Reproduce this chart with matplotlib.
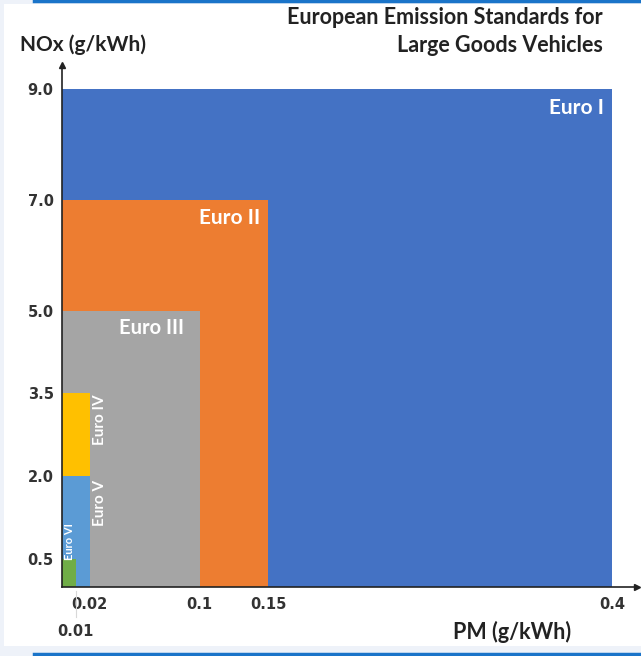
import matplotlib
matplotlib.use("Agg")
from matplotlib import pyplot as plt
from matplotlib.patches import Rectangle
from matplotlib.lines import Line2D

# emission limits, drawn from largest to smallest
stages = ["Euro I", "Euro II", "Euro III", "Euro IV", "Euro V", "Euro VI"]
pm_limits = [0.4, 0.15, 0.1, 0.02, 0.02, 0.01]
nox_limits = [9.0, 7.0, 5.0, 3.5, 2.0, 0.5]
colors = ["#4472C4", "#ED7D31", "#A5A5A5", "#FFC000", "#5B9BD5", "#70AD47"]

x_ticks = [0.02, 0.1, 0.15, 0.4]
x_tick_labels = ["0.02", "0.1", "0.15", "0.4"]
y_ticks = [0.5, 2.0, 3.5, 5.0, 7.0, 9.0]
y_tick_labels = ["0.5", "2.0", "3.5", "5.0", "7.0", "9.0"]

plt.rcParams['font.family'] = ['Lato', 'DejaVu Sans']

W, H = 641, 656
fig = plt.figure(figsize=(W / 100, H / 100), dpi=100, facecolor="#eef2f9")

# white panel and the thin blue rules of the page
fig.patches.append(Rectangle((4 / W, 1 - 646 / H), 637 / W, 642 / H,
                             transform=fig.transFigure, facecolor="white",
                             edgecolor="none", zorder=-10))
fig.add_artist(Line2D([34 / W, 1], [1 - 1 / H, 1 - 1 / H], color="#1a74c9", lw=2.5))
fig.add_artist(Line2D([34 / W, 1], [1 - 654 / H, 1 - 654 / H], color="#1a74c9", lw=2.5))

ax = fig.add_axes([62 / W, (H - 587) / H, 575 / W, 522 / H])
ax.set_facecolor("none")

for name, pm, nox, c in zip(stages, pm_limits, nox_limits, colors):
    ax.bar(0, nox, width=pm, align="edge", color=c, edgecolor="none", zorder=2)

ax.set_xlim(0, 0.418)
ax.set_ylim(0, 9.44)

for s in ["top", "right"]:
    ax.spines[s].set_visible(False)
for s in ["left", "bottom"]:
    ax.spines[s].set_color("#222222")
    ax.spines[s].set_linewidth(1.2)
    ax.spines[s].set_zorder(3)

# arrow heads on the axes
ax.plot(1, 0, ">", color="#222222", ms=4, transform=ax.transAxes, clip_on=False, zorder=4)
ax.plot(0, 1, "^", color="#222222", ms=4, transform=ax.transAxes, clip_on=False, zorder=4)

tick_font = dict(family="DejaVu Sans", weight="bold", size=10.5)
ax.set_xticks(x_ticks)
ax.set_xticklabels(x_tick_labels, fontdict=tick_font)
ax.set_yticks(y_ticks)
ax.set_yticklabels(y_tick_labels, fontdict=tick_font)
ax.tick_params(length=0, colors="#333333")
ax.tick_params(axis="x", pad=7)
ax.tick_params(axis="y", pad=6)

# 0.01 sits on a second row below the others
ax.plot([0.01, 0.01], [-0.08, -0.55], color="#d8d8d8", lw=0.8, clip_on=False)
ax.text(0.01, -0.81, "0.01", ha="center", va="center", color="#333333",
        clip_on=False, fontdict=tick_font)

# stage labels
txt = dict(color="white", fontweight="bold", zorder=5)
ax.text(0.394, 8.66, "Euro I", ha="right", va="center", fontsize=15, **txt)
ax.text(0.122, 6.67, "Euro II", ha="center", va="center", fontsize=15, **txt)
ax.text(0.065, 4.68, "Euro III", ha="center", va="center", fontsize=14.5, **txt)
ax.text(0.0276, 3.02, "Euro IV", ha="center", va="center", rotation=90, fontsize=11, **txt)
ax.text(0.0276, 1.52, "Euro V", ha="center", va="center", rotation=90, fontsize=11, **txt)
ax.text(0.0058, 0.83, "Euro VI", ha="center", va="center", rotation=90, fontsize=8, **txt)

head = dict(fontsize=15.5, fontweight="bold", color="#222222", va="center")
fig.text(603 / W, 1 - 18 / H, "European Emission Standards for", ha="right", **head)
fig.text(603 / W, 1 - 46 / H, "Large Goods Vehicles", ha="right", **head)
fig.text(20 / W, 1 - 45 / H, "NOx (g/kWh)", ha="left", fontsize=15, fontweight="bold",
         color="#222222", va="center")
fig.text(571 / W, 1 - 632 / H, "PM (g/kWh)", ha="right", **head)

fig.savefig("out.png", dpi=100, facecolor=fig.get_facecolor())
